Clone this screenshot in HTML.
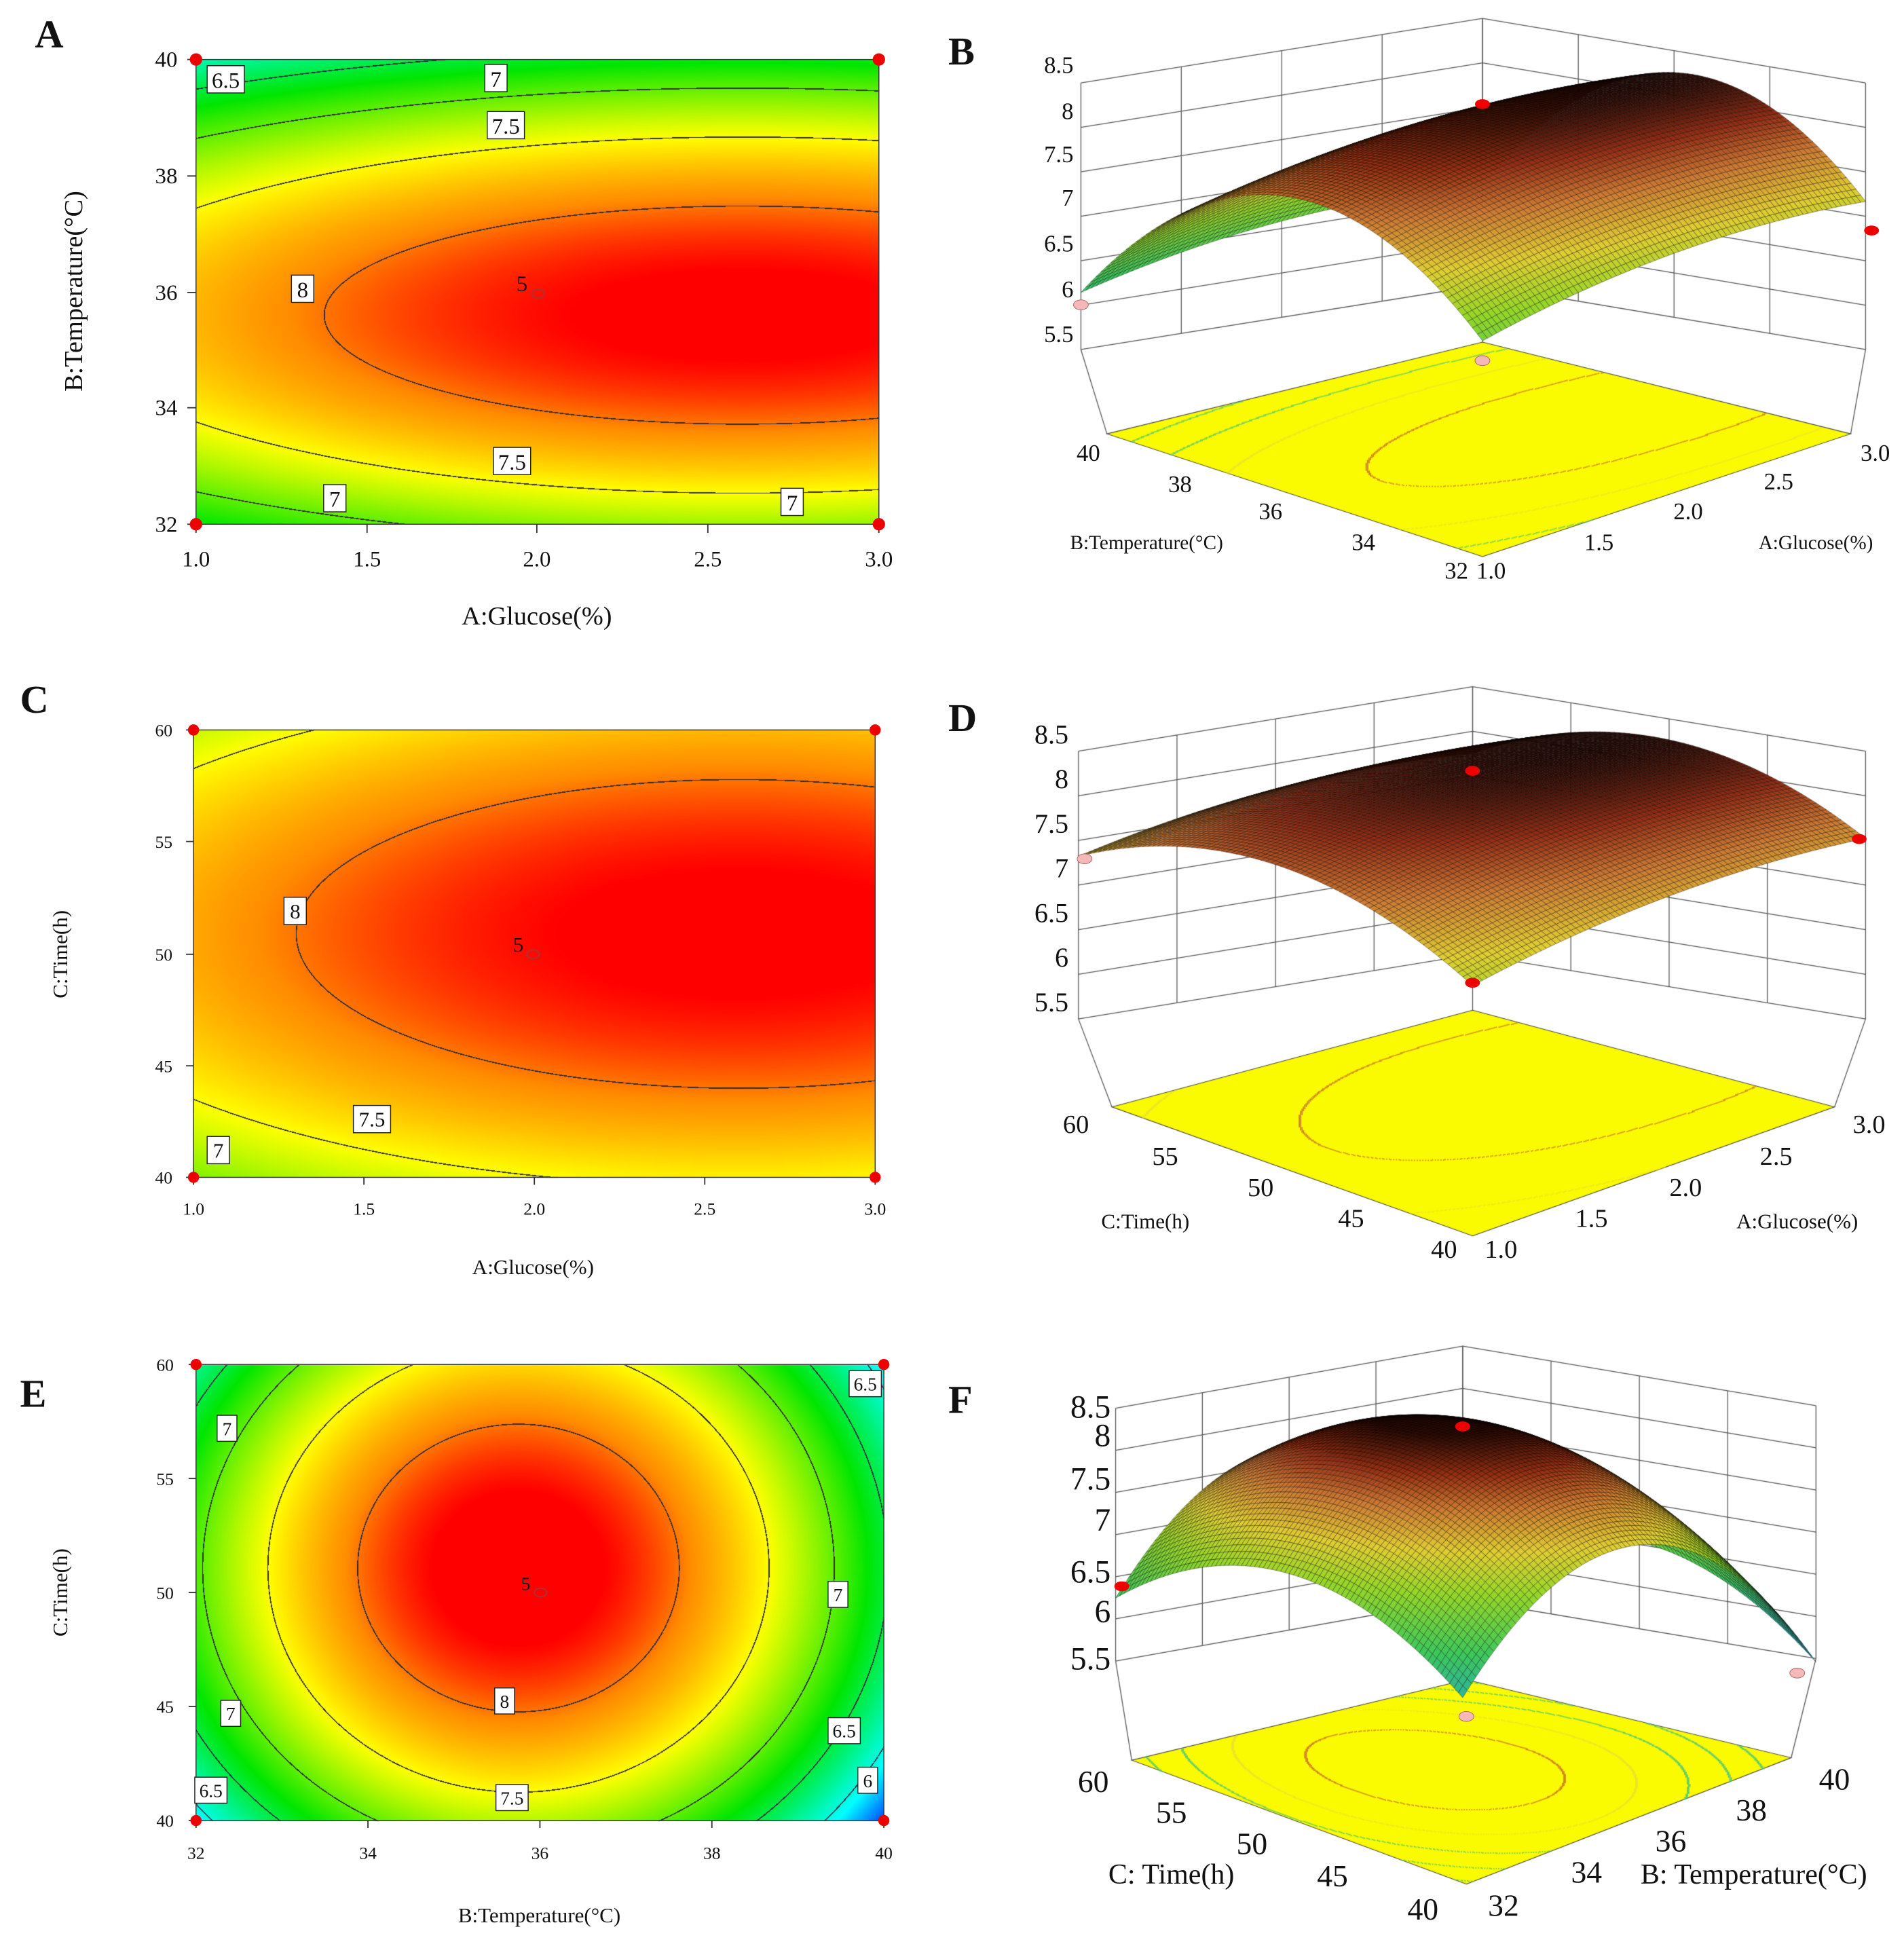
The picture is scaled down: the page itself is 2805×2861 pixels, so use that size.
<!DOCTYPE html>
<html><head><meta charset="utf-8">
<style>
html,body{margin:0;padding:0;background:#fff;}
#wrap{position:relative;width:2805px;height:2861px;overflow:hidden;background:#fff;}
#cv{position:absolute;left:0;top:0;width:2805px;height:2861px;}
#ov{position:absolute;left:0;top:0;width:2805px;height:2861px;}
text{font-family:"Liberation Serif",serif;fill:#111;}
.pl{font-weight:bold;font-size:32px;}
.box{fill:#fff;stroke:#222;stroke-width:0.8;}
</style></head>
<body>
<div id="wrap">
<canvas id="cv"></canvas>
<svg id="ov" viewBox="0 0 1536 1567">
<text class="pl" x="28" y="38">A</text>
<text class="pl" x="765" y="52">B</text>
<text class="pl" x="16" y="575">C</text>
<text class="pl" x="765" y="590">D</text>
<text class="pl" x="16" y="1135">E</text>
<text class="pl" x="765" y="1140">F</text>

<g>
<rect x="158" y="48" width="551" height="375" fill="none" stroke="#333" stroke-width="0.8"/>
<g stroke="#333" stroke-width="1">
<line x1="158" y1="423" x2="158" y2="430"/><line x1="296" y1="423" x2="296" y2="430"/><line x1="433" y1="423" x2="433" y2="430"/><line x1="571" y1="423" x2="571" y2="430"/><line x1="709" y1="423" x2="709" y2="430"/>
<line x1="151" y1="48" x2="158" y2="48"/><line x1="151" y1="142" x2="158" y2="142"/><line x1="151" y1="236" x2="158" y2="236"/><line x1="151" y1="329" x2="158" y2="329"/><line x1="151" y1="423" x2="158" y2="423"/>
</g>
<g font-size="18" text-anchor="middle">
<text x="158" y="457">1.0</text><text x="296" y="457">1.5</text><text x="433" y="457">2.0</text><text x="571" y="457">2.5</text><text x="709" y="457">3.0</text></g>
<g font-size="18" text-anchor="end">
<text x="143" y="54">40</text><text x="143" y="148">38</text><text x="143" y="242">36</text><text x="143" y="335">34</text><text x="143" y="429">32</text></g>
<text x="433" y="504" font-size="21" text-anchor="middle">A:Glucose(%)</text>
<text transform="translate(66,235) rotate(-90)" font-size="21" text-anchor="middle">B:Temperature(°C)</text>
<g font-size="18" text-anchor="middle">
<rect class="box" x="167" y="53" width="30" height="22"/><text x="182" y="71">6.5</text>
<rect class="box" x="391" y="52" width="18" height="22"/><text x="400" y="70">7</text>
<rect class="box" x="393" y="90" width="30" height="22"/><text x="408" y="108">7.5</text>
<rect class="box" x="235" y="222" width="18" height="22"/><text x="244" y="240">8</text>
<rect class="box" x="398" y="361" width="30" height="22"/><text x="413" y="379">7.5</text>
<rect class="box" x="261" y="391" width="18" height="22"/><text x="270" y="409">7</text>
<rect class="box" x="630" y="394" width="18" height="22"/><text x="639" y="412">7</text>
<text x="421" y="235">5</text></g>
<ellipse cx="434" cy="237" rx="5" ry="3.5" fill="none" stroke="#a33"/>
<g fill="#e00"><circle cx="158" cy="48" r="5"/><circle cx="709" cy="48" r="5"/><circle cx="158" cy="423" r="5"/><circle cx="709" cy="423" r="5"/></g>
</g>

<g>
<rect x="156" y="589" width="550" height="361" fill="none" stroke="#333" stroke-width="0.8"/>
<g stroke="#333" stroke-width="1">
<line x1="156" y1="950" x2="156" y2="956"/><line x1="293.5" y1="950" x2="293.5" y2="956"/><line x1="431" y1="950" x2="431" y2="956"/><line x1="568.5" y1="950" x2="568.5" y2="956"/><line x1="706" y1="950" x2="706" y2="956"/>
<line x1="150" y1="589" x2="156" y2="589"/><line x1="150" y1="679" x2="156" y2="679"/><line x1="150" y1="770" x2="156" y2="770"/><line x1="150" y1="860" x2="156" y2="860"/><line x1="150" y1="950" x2="156" y2="950"/>
</g>
<g font-size="14" text-anchor="middle">
<text x="156" y="980">1.0</text><text x="293.5" y="980">1.5</text><text x="431" y="980">2.0</text><text x="568.5" y="980">2.5</text><text x="706" y="980">3.0</text></g>
<g font-size="14" text-anchor="end">
<text x="139" y="594">60</text><text x="139" y="684">55</text><text x="139" y="775">50</text><text x="139" y="865">45</text><text x="139" y="955">40</text></g>
<text x="430" y="1028" font-size="17" text-anchor="middle">A:Glucose(%)</text>
<text transform="translate(54,770) rotate(-90)" font-size="17" text-anchor="middle">C:Time(h)</text>
<g font-size="17" text-anchor="middle">
<rect class="box" x="229" y="724" width="18" height="22"/><text x="238" y="741">8</text>
<rect class="box" x="285" y="892" width="30" height="22"/><text x="300" y="909">7.5</text>
<rect class="box" x="167" y="917" width="18" height="22"/><text x="176" y="934">7</text>
<text x="418" y="768">5</text></g>
<ellipse cx="430" cy="770" rx="5" ry="3.5" fill="none" stroke="#a33"/>
<g fill="#e00"><circle cx="156" cy="589" r="4.5"/><circle cx="706" cy="589" r="4.5"/><circle cx="156" cy="950" r="4.5"/><circle cx="706" cy="950" r="4.5"/></g>
</g>

<g>
<rect x="158" y="1101" width="555" height="368" fill="none" stroke="#333" stroke-width="0.8"/>
<g stroke="#333" stroke-width="1">
<line x1="158" y1="1469" x2="158" y2="1475"/><line x1="296.75" y1="1469" x2="296.75" y2="1475"/><line x1="435.5" y1="1469" x2="435.5" y2="1475"/><line x1="574.25" y1="1469" x2="574.25" y2="1475"/><line x1="713" y1="1469" x2="713" y2="1475"/>
<line x1="152" y1="1101" x2="158" y2="1101"/><line x1="152" y1="1193" x2="158" y2="1193"/><line x1="152" y1="1285" x2="158" y2="1285"/><line x1="152" y1="1377" x2="158" y2="1377"/><line x1="152" y1="1469" x2="158" y2="1469"/>
</g>
<g font-size="14" text-anchor="middle">
<text x="158" y="1500">32</text><text x="296.75" y="1500">34</text><text x="435.5" y="1500">36</text><text x="574.25" y="1500">38</text><text x="713" y="1500">40</text></g>
<g font-size="14" text-anchor="end">
<text x="140" y="1106">60</text><text x="140" y="1198">55</text><text x="140" y="1290">50</text><text x="140" y="1382">45</text><text x="140" y="1474">40</text></g>
<text x="435" y="1551" font-size="17" text-anchor="middle">B:Temperature(°C)</text>
<text transform="translate(54,1285) rotate(-90)" font-size="17" text-anchor="middle">C:Time(h)</text>
<g font-size="15" text-anchor="middle">
<rect class="box" x="175" y="1142" width="16" height="21"/><text x="183" y="1158">7</text>
<rect class="box" x="685" y="1106" width="26" height="21"/><text x="698" y="1122">6.5</text>
<rect class="box" x="668" y="1276" width="16" height="21"/><text x="676" y="1292">7</text>
<rect class="box" x="178" y="1372" width="16" height="21"/><text x="186" y="1388">7</text>
<rect class="box" x="399" y="1362" width="16" height="21"/><text x="407" y="1378">8</text>
<rect class="box" x="668" y="1386" width="26" height="21"/><text x="681" y="1402">6.5</text>
<rect class="box" x="157" y="1434" width="26" height="21"/><text x="170" y="1450">6.5</text>
<rect class="box" x="400" y="1440" width="26" height="21"/><text x="413" y="1456">7.5</text>
<rect class="box" x="692" y="1426" width="16" height="21"/><text x="700" y="1442">6</text>
<text x="424" y="1283">5</text></g>
<ellipse cx="436" cy="1285" rx="5" ry="3.5" fill="none" stroke="#a33"/>
<g fill="#e00"><circle cx="158" cy="1101" r="4.5"/><circle cx="713" cy="1101" r="4.5"/><circle cx="158" cy="1469" r="4.5"/><circle cx="713" cy="1469" r="4.5"/></g>
</g>

<g>
<g font-size="19" text-anchor="end">
<text x="866" y="59">8.5</text><text x="866" y="96">8</text><text x="866" y="131">7.5</text><text x="866" y="166">7</text><text x="866" y="203">6.5</text><text x="866" y="240">6</text><text x="866" y="276">5.5</text></g>
<g font-size="19" text-anchor="middle">
<text x="878" y="372">40</text><text x="952" y="397">38</text><text x="1025" y="419">36</text><text x="1100" y="444">34</text><text x="1175" y="467">32</text></g>
<g font-size="19" text-anchor="middle">
<text x="1203" y="467">1.0</text><text x="1290" y="444">1.5</text><text x="1362" y="419">2.0</text><text x="1435" y="395">2.5</text><text x="1513" y="372">3.0</text></g>
<text x="925" y="443" font-size="16" text-anchor="middle">B:Temperature(°C)</text>
<text x="1465" y="443" font-size="16" text-anchor="middle">A:Glucose(%)</text>
</g>
<g>
<g font-size="22" text-anchor="end">
<text x="862" y="600">8.5</text><text x="862" y="636">8</text><text x="862" y="672">7.5</text><text x="862" y="708">7</text><text x="862" y="744">6.5</text><text x="862" y="780">6</text><text x="862" y="816">5.5</text></g>
<g font-size="21" text-anchor="middle">
<text x="868" y="914">60</text><text x="940" y="940">55</text><text x="1017" y="965">50</text><text x="1090" y="990">45</text><text x="1165" y="1015">40</text></g>
<g font-size="21" text-anchor="middle">
<text x="1211" y="1015">1.0</text><text x="1284" y="990">1.5</text><text x="1360" y="965">2.0</text><text x="1433" y="940">2.5</text><text x="1508" y="914">3.0</text></g>
<text x="924" y="991" font-size="17" text-anchor="middle">C:Time(h)</text>
<text x="1450" y="991" font-size="17" text-anchor="middle">A:Glucose(%)</text>
</g>
<g>
<g font-size="26" text-anchor="end">
<text x="896" y="1144">8.5</text><text x="896" y="1167">8</text><text x="896" y="1202">7.5</text><text x="896" y="1235">7</text><text x="896" y="1277">6.5</text><text x="896" y="1309">6</text><text x="896" y="1347">5.5</text></g>
<g font-size="25" text-anchor="middle">
<text x="882" y="1446">60</text><text x="945" y="1471">55</text><text x="1010" y="1496">50</text><text x="1075" y="1522">45</text><text x="1148" y="1549">40</text></g>
<g font-size="25" text-anchor="middle">
<text x="1213" y="1546">32</text><text x="1280" y="1519">34</text><text x="1348" y="1494">36</text><text x="1413" y="1469">38</text><text x="1480" y="1444">40</text></g>
<text x="945" y="1520" font-size="23" text-anchor="middle">C: Time(h)</text>
<text x="1415" y="1520" font-size="23" text-anchor="middle">B: Temperature(°C)</text>
</g>
<g>
<ellipse cx="1196" cy="84" rx="6" ry="4" fill="#e00"/><ellipse cx="1510" cy="186" rx="6" ry="4" fill="#e00"/>
<ellipse cx="872" cy="246" rx="6" ry="4" fill="#f4b8b8" stroke="#a66" stroke-width="0.5"/><ellipse cx="1196" cy="291" rx="6" ry="4" fill="#f4b8b8" stroke="#a66" stroke-width="0.5"/>
<ellipse cx="875" cy="693" rx="6" ry="4" fill="#f4b8b8" stroke="#a66" stroke-width="0.5"/><ellipse cx="1188" cy="622" rx="6" ry="4" fill="#e00"/>
<ellipse cx="1500" cy="677" rx="6" ry="4" fill="#e00"/><ellipse cx="1188" cy="793" rx="6" ry="4" fill="#e00"/>
<ellipse cx="905" cy="1280" rx="6" ry="4" fill="#e00"/><ellipse cx="1180" cy="1151" rx="6" ry="4" fill="#e00"/>
<ellipse cx="1450" cy="1350" rx="6" ry="4" fill="#f4b8b8" stroke="#a66" stroke-width="0.5"/><ellipse cx="1183" cy="1385" rx="6" ry="4" fill="#f4b8b8" stroke="#a66" stroke-width="0.5"/>
</g>
</svg>
</div>
<script>
const contourLevels = [6, 6.5, 7, 7.5, 8];
// [peak, x0, y0, kx, ky]
const coefGlucoseTemp = [8.3, 2.6, 35.6, 0.2, 0.085];
const coefGlucoseTime = [8.3, 2.6, 50.9, 0.178, 0.0063];
const coefTempTime = [8.35, 35.75, 51.1, 0.1, 0.0088];
const zTicks = [5.5, 6, 6.5, 7, 7.5, 8, 8.5];
const glucoseRange = [1, 3];
const tempRange = [32, 40];
const timeRange = [40, 60];

const S = 2805/1536;
const cv = document.getElementById('cv');
cv.width = 2805; cv.height = 2861;
const ctx = cv.getContext('2d');

function model(c){ return (x,y)=>c[0]-c[3]*(x-c[1])*(x-c[1])-c[4]*(y-c[2])*(y-c[2]); }
const fAB = model(coefGlucoseTemp), fAC = model(coefGlucoseTime), fBC = model(coefTempTime);

const stops=[[5.3,[0,0,255]],[5.9,[0,255,255]],[6.7,[0,230,0]],[7.5,[255,255,0]],[7.95,[255,140,0]],[8.25,[255,0,0]]];
function interp(st,v){
  if(v<=st[0][0]) return st[0][1].slice();
  for(let i=1;i<st.length;i++){
    if(v<=st[i][0]){const a=st[i-1],b=st[i];const t=(v-a[0])/(b[0]-a[0]);
      return [0,1,2].map(k=>a[1][k]+(b[1][k]-a[1][k])*t);}
  }
  return st[st.length-1][1].slice();
}
const cmap=v=>interp(stops,v);
const sstops=[[5.6,[40,170,200]],[6.3,[60,200,90]],[6.9,[150,215,40]],[7.3,[225,205,50]],[7.7,[205,120,50]],[8.0,[150,45,20]],[8.3,[40,10,5]]];
const scmap=v=>interp(sstops,v);

function heat(x0,y0,x1,y1,xr,yr,f){
  const X0=Math.round(x0*S),Y0=Math.round(y0*S),W=Math.round(x1*S)-X0,H=Math.round(y1*S)-Y0;
  const img=ctx.createImageData(W,H),d=img.data;
  const sx=(xr[1]-xr[0])/W, sy=(yr[1]-yr[0])/H;
  for(let j=0;j<H;j++){for(let i=0;i<W;i++){
    const X=xr[0]+(i+.5)*sx, Y=yr[1]-(j+.5)*sy, v=f(X,Y);
    const g=Math.hypot(f(X+sx,Y)-v,f(X,Y+sy)-v)+1e-9;
    let c=cmap(v);
    for(const L of contourLevels){ if(Math.abs(v-L)<0.8*g){c=[45,45,60];break;} }
    const p=(j*W+i)*4; d[p]=c[0];d[p+1]=c[1];d[p+2]=c[2];d[p+3]=255;
  }}
  ctx.putImageData(img,X0,Y0);
}
heat(158,48,709,423,glucoseRange,tempRange,fAB);
heat(156,589,706,950,glucoseRange,timeRange,fAC);
heat(158,1101,713,1469,tempRange,timeRange,fBC);

ctx.setTransform(S,0,0,S,0,0);
function bil(q,u,v){ return [
  q.F[0]*(1-u)*(1-v)+q.R[0]*u*(1-v)+q.L[0]*(1-u)*v+q.B[0]*u*v,
  q.F[1]*(1-u)*(1-v)+q.R[1]*u*(1-v)+q.L[1]*(1-u)*v+q.B[1]*u*v]; }

function surf3d(cfg){
  const zmin=5.5, zmax=8.5;
  const P=(u,v,z)=>{const b=bil(cfg.base,u,v);return [b[0],b[1]-(z-zmin)*cfg.zpx];};
  ctx.strokeStyle='#555'; ctx.lineWidth=0.7;
  for(const z of zTicks){ ctx.beginPath(); let a=P(0,1,z),b=P(1,1,z),c=P(1,0,z);
    ctx.moveTo(a[0],a[1]);ctx.lineTo(b[0],b[1]);ctx.lineTo(c[0],c[1]);ctx.stroke(); }
  for(let k=0;k<=4;k++){ const t=k/4;
    let a=P(t,1,zmin),b=P(t,1,zmax); ctx.beginPath();ctx.moveTo(a[0],a[1]);ctx.lineTo(b[0],b[1]);ctx.stroke();
    a=P(1,t,zmin);b=P(1,t,zmax); ctx.beginPath();ctx.moveTo(a[0],a[1]);ctx.lineTo(b[0],b[1]);ctx.stroke(); }
  let a, fl=cfg.floor.L; a=P(0,1,zmin); ctx.beginPath(); ctx.moveTo(a[0],a[1]); ctx.lineTo(fl[0],fl[1]); ctx.stroke();
  a=P(1,0,zmin); fl=cfg.floor.R; ctx.beginPath(); ctx.moveTo(a[0],a[1]); ctx.lineTo(fl[0],fl[1]); ctx.stroke();
  a=P(1,1,zmin); fl=cfg.floor.B; ctx.beginPath(); ctx.moveTo(a[0],a[1]); ctx.lineTo(fl[0],fl[1]); ctx.stroke();
  const q=cfg.floor; ctx.fillStyle='rgb(250,250,0)'; ctx.beginPath();
  ctx.moveTo(q.F[0],q.F[1]);ctx.lineTo(q.R[0],q.R[1]);ctx.lineTo(q.B[0],q.B[1]);ctx.lineTo(q.L[0],q.L[1]);ctx.closePath();ctx.fill();
  ctx.strokeStyle='#444'; ctx.lineWidth=0.6; ctx.stroke();
  const M=260;
  for(let i=0;i<M;i++)for(let j=0;j<M;j++){
    const u=i/M,v=j/M, v0=cfg.f(u,v), v1=cfg.f(u+1/M,v), v2=cfg.f(u,v+1/M);
    for(const L of contourLevels){ if((v0-L)*(v1-L)<=0||(v0-L)*(v2-L)<=0){
      const p=bil(q,u,v); ctx.fillStyle=L>=8?'rgba(200,120,40,0.8)':(L>=7.5?'rgba(230,220,60,0.6)':'rgba(80,200,120,0.8)');
      ctx.fillRect(p[0]-0.5,p[1]-0.5,1,1);} }
  }
  const N=80, quads=[];
  for(let i=0;i<N;i++)for(let j=0;j<N;j++) quads.push([i,j]);
  quads.sort((p,r)=>(r[0]+r[1])-(p[0]+p[1]));
  ctx.lineWidth=0.3; ctx.strokeStyle='rgba(0,0,0,0.7)';
  for(const [i,j] of quads){
    const u0=i/N,u1=(i+1)/N,v0=j/N,v1=(j+1)/N;
    const z00=cfg.f(u0,v0),z10=cfg.f(u1,v0),z11=cfg.f(u1,v1),z01=cfg.f(u0,v1);
    const c=scmap((z00+z10+z11+z01)/4);
    const p1=P(u0,v0,z00),p2=P(u1,v0,z10),p3=P(u1,v1,z11),p4=P(u0,v1,z01);
    ctx.fillStyle='rgb('+(c[0]|0)+','+(c[1]|0)+','+(c[2]|0)+')';
    ctx.beginPath();ctx.moveTo(p1[0],p1[1]);ctx.lineTo(p2[0],p2[1]);ctx.lineTo(p3[0],p3[1]);ctx.lineTo(p4[0],p4[1]);ctx.closePath();
    ctx.fill();ctx.stroke();
  }
}
const lerp=(r,t)=>r[0]+(r[1]-r[0])*t;
surf3d({base:{F:[1196,360],L:[872,282],B:[1196,230],R:[1505,282]}, zpx:71.7,
  floor:{F:[1196,449],L:[893,350],B:[1196,276],R:[1493,350]},
  f:(u,v)=>fAB(lerp(glucoseRange,u),lerp(tempRange,v))});
surf3d({base:{F:[1188,910],L:[870,822],B:[1188,770],R:[1505,822]}, zpx:72,
  floor:{F:[1188,997],L:[897,893],B:[1188,815],R:[1480,893]},
  f:(u,v)=>fAC(lerp(glucoseRange,u),lerp(timeRange,v))});
surf3d({base:{F:[1180,1394],L:[900,1340],B:[1180,1290],R:[1465,1338]}, zpx:68,
  floor:{F:[1183,1520],L:[913,1420],B:[1183,1355],R:[1445,1418]},
  f:(u,v)=>fBC(lerp(tempRange,u),lerp(timeRange,v))});
</script>
</body></html>
